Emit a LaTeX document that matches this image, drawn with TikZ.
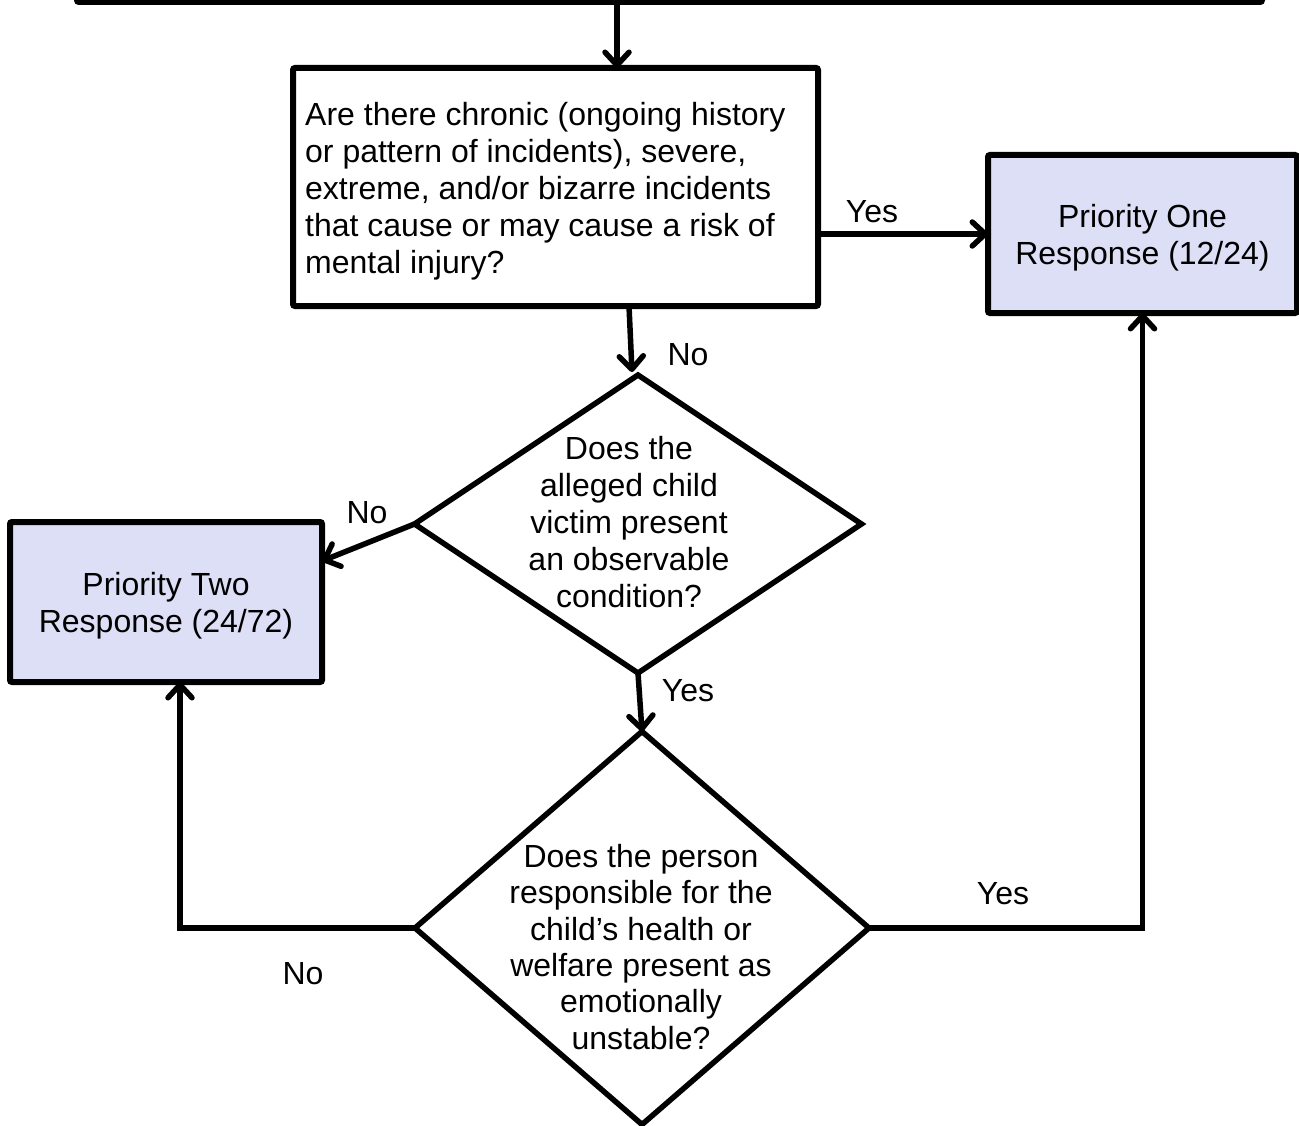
\documentclass[tikz,border=0pt]{standalone}
\usepackage{fontspec}
\setmainfont{Liberation Sans}
\usetikzlibrary{arrows.meta,shapes.geometric}
\definecolor{prifill}{RGB}{220,223,245}
\tikzset{
  box/.style={draw=black, line width=6pt, rounded corners=2pt, inner sep=0pt, outer sep=0pt},
  pribox/.style={box, fill=prifill, align=center},
  decision/.style={draw=black, line width=5.5pt, diamond, inner sep=0pt, outer sep=0pt, line join=miter},
  txt/.style={font=\fontsize{32}{37}\selectfont, inner sep=0pt},
  arr/.style={line width=5.5pt, -{Straight Barb[length=13pt, width=24pt, line cap=round, line join=round]}},
  conn/.style={line width=5.5pt}
}
\begin{document}
\begin{tikzpicture}[x=1pt, y=-1pt]
\useasboundingbox (0,0) rectangle (1299,1126);
\clip (0,0) rectangle (1299,1126);
% top (cut off) box
\node[box, minimum width=1185pt, minimum height=120pt] (top) at (669.5,-58) {};
% first question
\node[box, minimum width=525pt, minimum height=238pt] (q1) at (555.5,187) {};
\node[txt, align=left, anchor=north west] (q1t) at (305,102) {Are there chronic (ongoing history\\or pattern of incidents), severe,\\extreme, and/or bizarre incidents\\that cause or may cause a risk of\\mental injury?};
% priority boxes
\node[pribox, minimum width=309pt, minimum height=158pt] (p1) at (1142.5,234) {};
\node[txt, align=center] (p1t) at (1142.5,238) {Priority One\\Response (12/24)};
\node[pribox, minimum width=312pt, minimum height=160pt] (p2) at (166,602) {};
\node[txt, align=center] (p2t) at (166,606) {Priority Two\\Response (24/72)};
% decisions
\node[decision, minimum width=447pt, minimum height=298pt] (d1) at (638,524) {};
\node[txt, align=center] (d1t) at (629,522) {Does the\\alleged child\\victim present\\an observable\\condition?};
\node[decision, minimum width=454pt, minimum height=393pt] (d2) at (642,928) {};
\node[txt, align=center, font=\fontsize{32}{36.3}\selectfont] (d2t) at (641,947) {Does the person\\responsible for the\\child’s health or\\welfare present as\\emotionally\\unstable?};
% helper coordinates
\coordinate (c1) at (617,0);
\coordinate (c2) at (629,0);
\coordinate (c3) at (632,372);
\coordinate (c4) at (0,561);
\coordinate (c5) at (180,0);
% connectors
\draw[arr] (top.south -| c1) -- (q1.north -| c1);
\draw[arr] (q1.east |- p1.west) -- (p1.west);
\draw[arr] (q1.south -| c2) -- (c3);
\draw[arr] (d1.west) -- (p2.east |- c4);
\draw[arr] (d1.south) -- (d2.north);
\draw[arr] (d2.west) -| (p2.south -| c5);
\draw[arr] (d2.east) -| (p1.south);
% labels
\node[txt] (lyes1) at (872,212) {Yes};
\node[txt] (lno1) at (688,355) {No};
\node[txt] (lno2) at (367,513) {No};
\node[txt] (lyes2) at (688,691) {Yes};
\node[txt] (lno3) at (303,974) {No};
\node[txt] (lyes3) at (1003,894) {Yes};
\end{tikzpicture}
\end{document}
